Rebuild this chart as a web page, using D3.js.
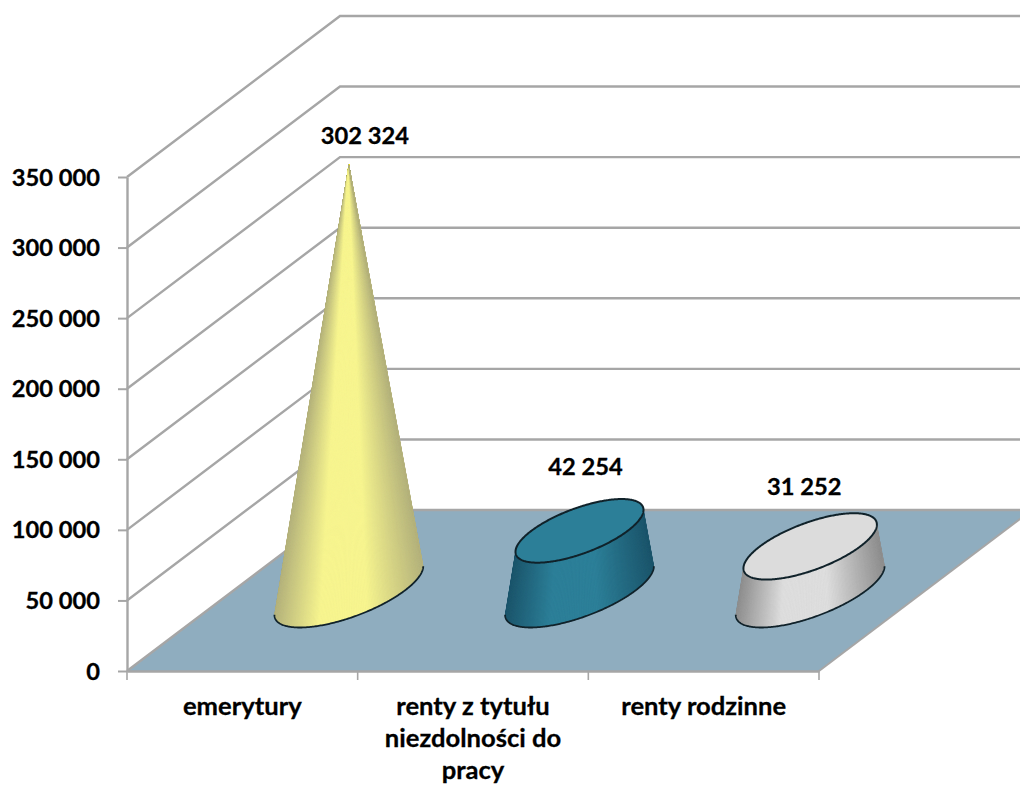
<!DOCTYPE html>
<html><head><meta charset="utf-8">
<script src="https://cdn.jsdelivr.net/npm/d3@7"></script>
<style>html,body{margin:0;padding:0;background:#fff}svg{display:block}
text{font-family:Lato,"Open Sans",sans-serif;font-weight:700;fill:#000;font-size:23.7px;stroke:#000;stroke-width:.3px}
text.cat{font-size:25.6px}</style>
</head><body>
<script>
const categories = ["emerytury", "renty z tytułu niezdolności do pracy", "renty rodzinne"];
const values = [302324, 42254, 31252];
const valueLabels = ["302 324", "42 254", "31 252"];
const yTicks = [0, 50000, 100000, 150000, 200000, 250000, 300000, 350000];
const edgeColors = ["#b5b37c", "#1c566c", "#8f8f8f"];
const midColors = ["#f7f58f", "#2d8099", "#dedede"];
const topColors = ["#f7f58f", "#2c7f98", "#dcdcdc"];
const labelShift = [[16, -28], [6, -64], [-6, -59]];

const W = 1020, H = 785;
const depth = {x: 213, y: -161};
const x = d3.scaleBand().domain(categories).range([127, 819]);
const y = d3.scaleLinear().domain([0, 350000]).range([671, 177]);
const svg = d3.select("body").append("svg").attr("width", W).attr("height", H);
const defs = svg.append("defs");
const grid = "#a6a6a6";

// floor
const x0 = x.range()[0], x1 = x.range()[1], y0 = y(0);
svg.append("path")
  .attr("d", d3.line()([[x0, y0], [x1, y0], [x1 + depth.x, y0 + depth.y], [x0 + depth.x, y0 + depth.y]]) + "Z")
  .attr("fill", "#8fadbf");

// walls: gridlines running back and along the rear wall
svg.append("g").selectAll("path").data(yTicks).join("path")
  .attr("d", d => d3.line()([[x0, y(d)], [x0 + depth.x, y(d) + depth.y], [W + 20, y(d) + depth.y]]))
  .attr("fill", "none").attr("stroke", grid).attr("stroke-width", 2.4);
svg.append("path")
  .attr("d", d3.line()([[x1, y0], [x1 + depth.x, y0 + depth.y]]))
  .attr("fill", "none").attr("stroke", grid).attr("stroke-width", 2);

// axes
const axisLeft = d3.axisLeft(y).tickValues(yTicks).tickSize(9).tickSizeOuter(0)
  .tickFormat(d => d3.format(",")(d).replace(/,/g, " "));
const gy = svg.append("g").attr("transform", `translate(${x0},0)`).call(axisLeft);
gy.select(".domain").attr("stroke", grid).attr("stroke-width", 2.4);
gy.selectAll(".tick line").attr("stroke", grid).attr("stroke-width", 2);
gy.selectAll(".tick text").attr("x", -27).attr("dy", "0.34em");

const gx = svg.append("g").attr("transform", `translate(0,${y0})`)
  .call(d3.axisBottom(x).tickSize(0).tickSizeOuter(0));
gx.select(".domain").attr("stroke", grid).attr("stroke-width", 2.4);
gx.selectAll(".tick").remove();
gx.selectAll("line.sep").data(d3.range(categories.length + 1)).join("line")
  .attr("class", "sep").attr("x1", d => x0 + d * x.bandwidth()).attr("x2", d => x0 + d * x.bandwidth())
  .attr("y1", 0).attr("y2", 9).attr("stroke", grid).attr("stroke-width", 1.6);

// category labels, wrapped by measured width
const probe = svg.append("text").attr("class", "cat").attr("visibility", "hidden");
function wrap(s, w) {
  const out = []; let line = "";
  s.split(" ").forEach(word => {
    const t = line ? line + " " + word : word;
    probe.text(t);
    if (probe.node().getComputedTextLength() > w && line) { out.push(line); line = word; }
    else line = t;
  });
  out.push(line); return out;
}
categories.forEach(c => {
  const t = svg.append("text").attr("class", "cat").attr("text-anchor", "middle")
    .attr("transform", `translate(${x(c) + x.bandwidth() / 2},715)`);
  wrap(c, 195).forEach((l, i) => t.append("tspan").attr("x", 0).attr("dy", i ? 32 : 0).text(l));
});
probe.remove();

// cones: ruled strips between base and top rings, shaded by angle
const A = 56, Bx = 49, By = -37;
const ring = (cx, cy, k) => d3.range(0, 360).map(a => {
  const t = a * Math.PI / 180;
  return [cx + k * (A * Math.cos(t) + Bx * Math.sin(t)), cy + k * By * Math.sin(t)];
});
const vmax = d3.max(values);
const closed = d3.line().curve(d3.curveLinearClosed);
categories.forEach((c, i) => {
  const cx = x(c) + x.bandwidth() / 2 + depth.x / 2;
  const cyBase = y0 + depth.y / 2;
  const cyTop = cyBase - (y(0) - y(values[i]));
  const k = 1 - values[i] / vmax;
  const base = ring(cx, cyBase, 1);
  const top = ring(cx, cyTop, k);
  const hull = d3.polygonHull(base.concat(k > 0 ? top : [[cx, cyTop]]));
  const id = "clip" + i;
  defs.append("clipPath").attr("id", id).append("path").attr("d", closed(hull));

  const leftI = d3.minIndex(base, p => p[0]), rightI = d3.maxIndex(base, p => p[0]);
  const seq = []; let j = leftI;
  while (j !== rightI) { seq.push(j); j = (j + 1) % 360; }
  seq.push(rightI);

  const shade = d3.scaleLinear().domain([0, .3, .62, 1])
    .range([edgeColors[i], midColors[i], midColors[i], edgeColors[i]]);
  const body = svg.append("g").attr("clip-path", `url(#${id})`);
  body.append("path").attr("d", closed(hull)).attr("fill", edgeColors[i]);
  seq.slice(0, -1).forEach((a, n) => {
    const b = seq[n + 1];
    // horizontal position around the front of the base, not the raw angle
    const s = (base[a][0] - base[leftI][0]) / (base[rightI][0] - base[leftI][0]);
    const col = shade(s);
    body.append("path")
      .attr("d", closed([base[a], base[b], top[b], top[a]]))
      .attr("fill", col).attr("stroke", col).attr("stroke-width", 0.8);
  });

  svg.append("path").attr("d", d3.line()(seq.map(a => base[a]))).attr("fill", "none")
    .attr("stroke", "#10222a").attr("stroke-width", 1.8);
  if (k > 0) {
    svg.append("path").attr("d", closed(top)).attr("fill", topColors[i])
      .attr("stroke", "#10222a").attr("stroke-width", 2);
  }
  svg.append("text").attr("text-anchor", "middle")
    .attr("x", cx + labelShift[i][0]).attr("y", cyTop + labelShift[i][1])
    .attr("dy", "0.34em").text(valueLabels[i]);
});
</script>
</body></html>
